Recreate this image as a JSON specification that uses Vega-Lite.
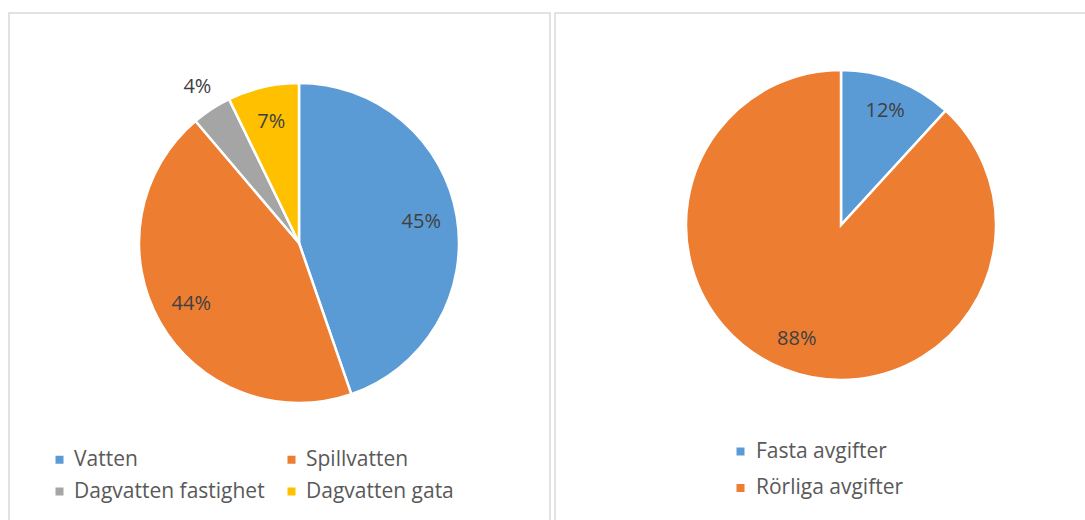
{
  "$schema": "https://vega.github.io/schema/vega-lite/v6.json",
  "padding": {"left": 8, "top": 12, "right": 0, "bottom": 0},
  "spacing": 3,
  "config": {
    "view": {"stroke": "#d9d9d9", "strokeWidth": 1.5},
    "font": "Open Sans"
  },
  "datasets": {
    "left": [
      {"kategori": "Vatten", "andel": 0.447, "ordning": 1},
      {"kategori": "Spillvatten", "andel": 0.441, "ordning": 2},
      {"kategori": "Dagvatten fastighet", "andel": 0.040, "ordning": 3},
      {"kategori": "Dagvatten gata", "andel": 0.072, "ordning": 4}
    ],
    "right": [
      {"kategori": "Fasta avgifter", "andel": 0.118, "ordning": 1},
      {"kategori": "Rörliga avgifter", "andel": 0.882, "ordning": 2}
    ]
  },
  "hconcat": [
    {
      "width": 541,
      "height": 520,
      "view": {"stroke": "#d9d9d9", "strokeWidth": 1.5, "fill": "white"},
      "data": {"name": "left"},
      "encoding": {
        "theta": {"field": "andel", "type": "quantitative", "stack": true},
        "order": {"field": "ordning", "type": "quantitative"}
      },
      "layer": [
        {
          "mark": {"type": "arc", "outerRadius": 160, "stroke": "white", "strokeWidth": 2.5, "x": 290, "y": 230},
          "encoding": {
            "color": {
              "field": "kategori",
              "type": "nominal",
              "scale": {
                "domain": ["Vatten", "Spillvatten", "Dagvatten fastighet", "Dagvatten gata"],
                "range": ["#5B9BD5", "#ED7D31", "#A5A5A5", "#FFC000"]
              },
              "legend": {
                "title": null,
                "orient": "none",
                "direction": "horizontal",
                "legendX": 40,
                "legendY": 436,
                "columns": 2,
                "columnPadding": 16,
                "rowPadding": 10,
                "symbolType": "square",
                "symbolSize": 64,
                "symbolStrokeWidth": 0,
                "labelFontSize": 21,
                "labelLimit": 400,
                "labelColor": "#595959",
                "labelFont": "Open Sans",
                "labelOffset": 4,
                "padding": 0
              }
            }
          }
        },
        {
          "mark": {"type": "text", "fontSize": 20, "color": "#404040", "font": "Open Sans", "x": 290, "y": 230},
          "encoding": {
            "radius": {"value": 124},
            "opacity": {
              "condition": {"test": "datum.kategori === 'Dagvatten fastighet'", "value": 0},
              "value": 1
            },
            "text": {"field": "andel", "type": "quantitative", "format": ".0%"}
          }
        },
        {
          "mark": {"type": "text", "fontSize": 20, "color": "#404040", "font": "Open Sans", "x": 290, "y": 230},
          "encoding": {
            "radius": {"value": 186},
            "opacity": {
              "condition": {"test": "datum.kategori === 'Dagvatten fastighet'", "value": 1},
              "value": 0
            },
            "text": {"field": "andel", "type": "quantitative", "format": ".0%"}
          }
        }
      ]
    },
    {
      "width": 533,
      "height": 520,
      "view": {"stroke": "#d9d9d9", "strokeWidth": 1.5, "fill": "white"},
      "data": {"name": "right"},
      "encoding": {
        "theta": {"field": "andel", "type": "quantitative", "stack": true},
        "order": {"field": "ordning", "type": "quantitative"}
      },
      "layer": [
        {
          "mark": {"type": "arc", "outerRadius": 155, "stroke": "white", "strokeWidth": 2.5, "x": 286, "y": 212},
          "encoding": {
            "color": {
              "field": "kategori",
              "type": "nominal",
              "scale": {
                "domain": ["Fasta avgifter", "Rörliga avgifter"],
                "range": ["#5B9BD5", "#ED7D31"]
              },
              "legend": {
                "title": null,
                "orient": "none",
                "legendX": 175,
                "legendY": 428,
                "rowPadding": 14.5,
                "symbolType": "square",
                "symbolSize": 64,
                "symbolStrokeWidth": 0,
                "labelFontSize": 21,
                "labelLimit": 400,
                "labelColor": "#595959",
                "labelFont": "Open Sans",
                "labelOffset": 5,
                "padding": 0
              }
            }
          }
        },
        {
          "mark": {"type": "text", "radius": 122, "fontSize": 20, "color": "#404040", "font": "Open Sans", "x": 286, "y": 212},
          "encoding": {
            "text": {"field": "andel", "type": "quantitative", "format": ".0%"}
          }
        }
      ]
    }
  ],
  "resolve": {"scale": {"color": "independent"}, "legend": {"color": "independent"}}
}
